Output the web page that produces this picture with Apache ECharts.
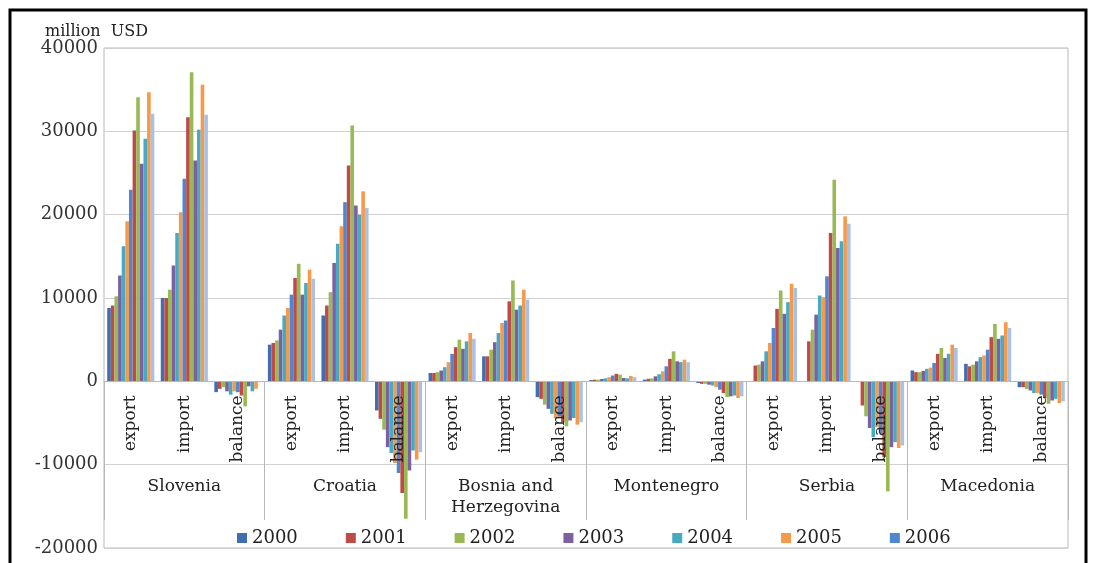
<!DOCTYPE html>
<html>
<head>
<meta charset="utf-8">
<script src="https://cdn.jsdelivr.net/npm/echarts@6/dist/echarts.min.js"></script>
<style>
  html, body { margin: 0; padding: 0; background: #ffffff; }
  #chart { width: 1093px; height: 563px; }
</style>
</head>
<body>
<div id="chart"></div>
<script>
// Foreign trade of the Western Balkan countries, million USD, 2000-2012
const countries = ['Slovenia', 'Croatia', 'Bosnia and\nHerzegovina', 'Montenegro', 'Serbia', 'Macedonia'];
const measures = ['export', 'import', 'balance'];
const years = ['2000', '2001', '2002', '2003', '2004', '2005', '2006',
               '2007', '2008', '2009', '2010', '2011', '2012'];
const legendYears = ['2000', '2001', '2002', '2003', '2004', '2005', '2006'];

// one value per year (2000 ... 2012)
const sloveniaExport   = [8800, 9100, 10200, 12700, 16200, 19200, 23000, 30100, 34100, 26100, 29100, 34700, 32100];
const sloveniaImport   = [10000, 10000, 11000, 13900, 17800, 20300, 24300, 31700, 37100, 26500, 30200, 35600, 32000];
const sloveniaBalance  = [-1300, -900, -700, -1200, -1600, -1200, -1300, -1700, -3000, -600, -1200, -900, -100];

const croatiaExport    = [4400, 4600, 4900, 6200, 7900, 8800, 10400, 12400, 14100, 10400, 11800, 13400, 12300];
const croatiaImport    = [7900, 9100, 10700, 14200, 16500, 18600, 21500, 25900, 30700, 21100, 20000, 22800, 20800];
const croatiaBalance   = [-3500, -4500, -5800, -7900, -8600, -9800, -11000, -13400, -16500, -10700, -8300, -9400, -8500];

const bosniaExport     = [1000, 1000, 1100, 1300, 1700, 2300, 3300, 4100, 5000, 3900, 4800, 5800, 5100];
const bosniaImport     = [3000, 3000, 3800, 4700, 5800, 7000, 7300, 9600, 12100, 8600, 9100, 11000, 9800];
const bosniaBalance    = [-1900, -2100, -2800, -3300, -3900, -4400, -4200, -4900, -5400, -4700, -4400, -5200, -4900];

const montenegroExport  = [150, 200, 200, 280, 360, 500, 700, 900, 800, 400, 360, 650, 500];
const montenegroImport  = [200, 300, 350, 600, 850, 1200, 1800, 2700, 3600, 2400, 2300, 2600, 2300];
const montenegroBalance = [-200, -300, -300, -400, -500, -700, -1000, -1400, -1900, -1800, -1700, -2000, -1800];

const serbiaExport     = [null, 1900, 2000, 2400, 3600, 4600, 6400, 8700, 10900, 8100, 9500, 11700, 11200];
const serbiaImport     = [null, 4800, 6200, 8000, 10300, 10100, 12600, 17800, 24200, 16000, 16800, 19800, 18900];
const serbiaBalance    = [null, -2900, -4200, -5600, -6700, -5500, -6200, -9100, -13200, -7900, -7300, -8000, -7700];

const macedoniaExport  = [1300, 1100, 1100, 1250, 1500, 1650, 2200, 3300, 4000, 2800, 3300, 4400, 4000];
const macedoniaImport  = [2100, 1800, 2000, 2400, 2900, 3100, 3800, 5300, 6900, 5100, 5500, 7100, 6400];
const macedoniaBalance = [-700, -700, -900, -1100, -1400, -1400, -1600, -2000, -2700, -2300, -2100, -2600, -2400];

const yTicks = { min: -20000, max: 40000, step: 10000 };

// year colours: six base hues repeat, the last year gets a pale blue
const yearColors = ['#3f6fb0', '#be4b48', '#98b954', '#7d60a0', '#46aac5', '#f59a4a', '#4f86cf',
                    '#be4b48', '#98b954', '#7d60a0', '#46aac5', '#f59a4a', '#a9c1e3'];

const rows = [
  sloveniaExport, sloveniaImport, sloveniaBalance,
  croatiaExport, croatiaImport, croatiaBalance,
  bosniaExport, bosniaImport, bosniaBalance,
  montenegroExport, montenegroImport, montenegroBalance,
  serbiaExport, serbiaImport, serbiaBalance,
  macedoniaExport, macedoniaImport, macedoniaBalance
];

const categoryLabels = [];
countries.forEach(() => measures.forEach(m => categoryLabels.push(m)));

const serifFont = '"DejaVu Serif", "Liberation Serif", serif';

// plot box (pixels) and where the zero line falls inside it
const gridTop = 48, gridBottomGap = 15, chartHeight = 563;
const plotHeight = chartHeight - gridTop - gridBottomGap;
const zeroFromBottom = plotHeight * (0 - yTicks.min) / (yTicks.max - yTicks.min);

const series = years.map((y, i) => ({
  name: y,
  type: 'bar',
  xAxisIndex: 0,
  barGap: '0%',
  barCategoryGap: '12%',
  itemStyle: { color: yearColors[i] },
  data: rows.map(r => (r[i] === null ? '-' : r[i]))
}));

const chart = echarts.init(document.getElementById('chart'), null, { renderer: 'canvas' });
chart.setOption({
  backgroundColor: '#ffffff',
  animation: false,
  color: yearColors,
  title: {
    text: 'million  USD',
    left: 40,
    top: 19,
    textStyle: { fontFamily: serifFont, fontSize: 16, fontWeight: 'normal', color: '#222' }
  },
  graphic: [
    {
      type: 'polyline',
      shape: { points: [[10, 570], [10, 10], [1086, 10], [1086, 570]] },
      style: { stroke: '#000', lineWidth: 3, fill: null },
      silent: true
    }
  ],
  legend: {
    data: legendYears,
    left: 232,
    top: 524,
    itemWidth: 10,
    itemHeight: 10,
    itemGap: 48,
    icon: 'rect',
    textStyle: { fontFamily: serifFont, fontSize: 18, color: '#222' }
  },
  grid: {
    left: 104,
    right: 25,
    top: gridTop,
    bottom: gridBottomGap,
    show: true,
    borderColor: '#b8b8b8',
    borderWidth: 1,
    containLabel: false,
    outerBoundsMode: 'none'
  },
  xAxis: [
    {
      // measure labels hang from the zero line, drawn above the bars
      type: 'category',
      data: categoryLabels,
      position: 'bottom',
      offset: -zeroFromBottom,
      z: 10,
      axisLine: { show: true, onZero: false, lineStyle: { color: '#b8b8b8', width: 1 } },
      axisTick: { show: false },
      axisLabel: {
        interval: 0,
        rotate: 90,
        margin: 14,
        fontFamily: serifFont,
        fontSize: 17,
        color: '#222'
      },
      splitLine: { show: false }
    },
    {
      // country labels with dividers running up to the zero line
      type: 'category',
      data: countries,
      position: 'bottom',
      offset: -28,
      axisLine: { show: false, onZero: false },
      axisTick: { show: true, inside: true, length: zeroFromBottom - 28, lineStyle: { color: '#b8b8b8', width: 1 } },
      axisLabel: {
        inside: true,
        interval: 0,
        margin: 44,
        verticalAlign: 'top',
        lineHeight: 21,
        fontFamily: serifFont,
        fontSize: 17,
        color: '#222'
      },
      splitLine: { show: false }
    }
  ],
  yAxis: {
    type: 'value',
    min: yTicks.min,
    max: yTicks.max,
    interval: yTicks.step,
    axisLine: { show: false },
    axisTick: { show: false },
    axisLabel: {
      margin: 6,
      fontFamily: serifFont,
      fontSize: 18,
      color: '#333',
      formatter: v => String(v)
    },
    splitLine: { lineStyle: { color: '#d0d0d0', width: 1 } }
  },
  series: series
});
</script>
</body>
</html>
